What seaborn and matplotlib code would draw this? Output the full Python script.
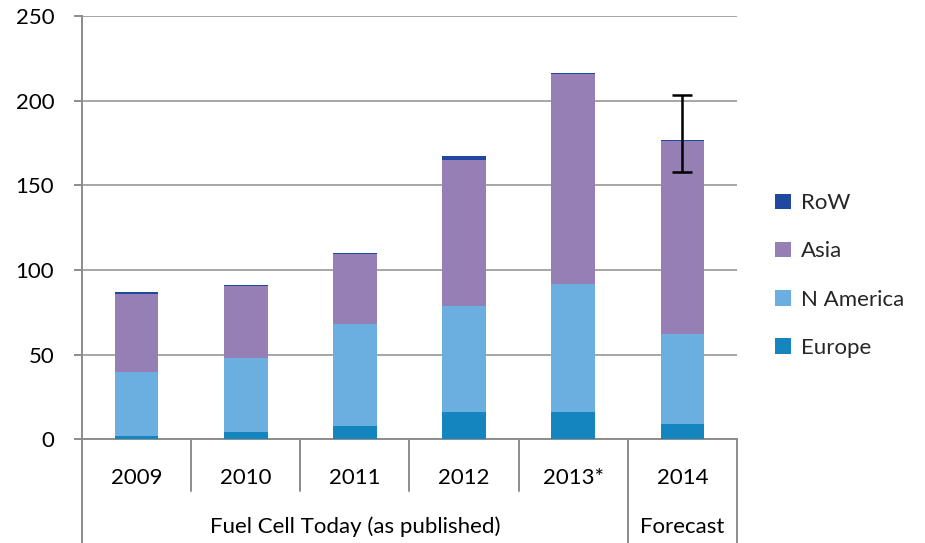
import matplotlib
matplotlib.use("Agg")
import matplotlib.pyplot as plt
import matplotlib.transforms as mtransforms
from matplotlib.patches import Patch
import seaborn as sns
import numpy as np
import pandas as pd

# ---- data ----
years = ["2009", "2010", "2011", "2012", "2013*", "2014"]
europe = [2.1, 4.5, 8.1, 16.4, 16.4, 9.3]
n_america = [37.6, 43.5, 60.1, 62.2, 75.1, 53.0]
asia = [46.1, 42.5, 41.1, 86.6, 124.2, 113.6]
row = [0.9, 0.9, 0.9, 2.4, 0.9, 0.9]
groups = ["Fuel Cell Today (as published)", "Forecast"]
group_spans = [(0, 4), (5, 5)]
forecast_err_low = [19.0]
forecast_err_high = [26.3]
yticks = [0, 50, 100, 150, 200, 250]

series_names = ["Europe", "N America", "Asia", "RoW"]
colors = {"RoW": "#1F48A0", "Asia": "#967FB4", "N America": "#6AAFE0", "Europe": "#1485BF"}

sns.set_theme(style="white")
plt.rcParams["font.family"] = ["Lato", "DejaVu Sans"]
FS = 16

fig = plt.figure(figsize=(9.25, 5.43), dpi=100)
ax = fig.add_axes([0.0886, 0.191, 0.7081, 0.7795])

df = pd.DataFrame({"year": years, "Europe": europe, "N America": n_america,
                   "Asia": asia, "RoW": row})
cum = df[series_names].cumsum(axis=1)

# draw cumulative from largest to smallest so they overlay into a stack
for name in reversed(series_names):
    sns.barplot(x=df["year"], y=cum[name], color=colors[name], width=0.4,
                order=years, ax=ax, saturation=1, edgecolor="none", linewidth=0,
                zorder=3)

# error bar on forecast
total = cum["RoW"].values
ax.errorbar([5], [total[5]], yerr=[forecast_err_low, forecast_err_high],
            fmt="none", ecolor="black", elinewidth=1.8, capsize=7, capthick=1.8,
            zorder=5)

ax.set_xlim(-0.5, 5.5)
ax.set_ylim(0, 250)
ax.set_yticks(yticks)
ax.set_yticklabels([str(v) for v in yticks], fontsize=FS, color="black")
ax.set_xticks([])
ax.set_xlabel("")
ax.set_ylabel("")
ax.yaxis.grid(True, color="#A6A6A6", linewidth=1.4, zorder=0)
ax.set_axisbelow(True)
for s in ["top", "right"]:
    ax.spines[s].set_visible(False)
ax.spines["left"].set_color("#8C8C8C")
ax.spines["left"].set_linewidth(1.4)
ax.spines["bottom"].set_color("#8C8C8C")
ax.spines["bottom"].set_linewidth(1.4)
ax.tick_params(axis="y", which="major", left=True, length=6, width=1.4,
               color="#8C8C8C", pad=14)

# multi-level category axis
trans = mtransforms.blended_transform_factory(ax.transData, ax.transAxes)
short_y = -0.122
long_y = -0.26
for i in range(7):
    xb = i - 0.5
    is_long = i in (0, 5, 6)
    ax.plot([xb, xb], [0, long_y if is_long else short_y], transform=trans,
            color="#8C8C8C", linewidth=1.4, clip_on=False, zorder=2)
for i, y in enumerate(years):
    ax.text(i, -0.0914, y, transform=trans, ha="center", va="center",
            fontsize=FS, color="black")
for g, (a, b) in zip(groups, group_spans):
    ax.text((a + b) / 2, -0.207, g, transform=trans, ha="center", va="center",
            fontsize=FS, color="black")

# legend
handles = [Patch(facecolor=colors[n], edgecolor="none") for n in reversed(series_names)]
fig.legend(handles, list(reversed(series_names)), loc="center left",
           bbox_to_anchor=(0.838, 1 - 275.5 / 543), frameon=False, fontsize=FS,
           handlelength=0.7, handleheight=0.7, handletextpad=0.45,
           labelspacing=1.27, borderpad=0, borderaxespad=0)

fig.savefig("out.png", dpi=100)
